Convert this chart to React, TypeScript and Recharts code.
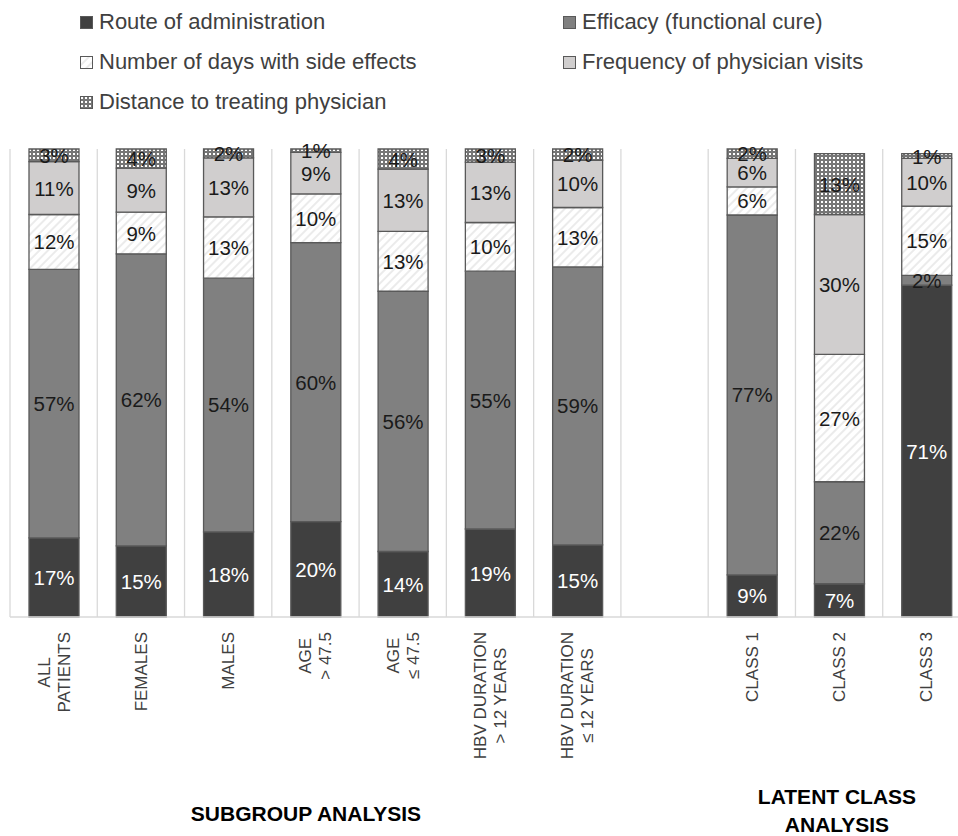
import React from "react";
import { BarChart, Bar, XAxis, YAxis, CartesianGrid, Legend, LabelList } from "recharts";

// categories (the empty one is the gap between the two analyses)
const CATEGORIES = [
  "ALL\nPATIENTS",
  "FEMALES",
  "MALES",
  "AGE\n> 47.5",
  "AGE\n≤ 47.5",
  "HBV DURATION\n> 12 YEARS",
  "HBV DURATION\n≤ 12 YEARS",
  "",
  "CLASS 1",
  "CLASS 2",
  "CLASS 3",
];

const ROUTE = [16.9, 15.2, 18.2, 20.4, 14.0, 18.8, 15.4, null, 9.0, 7.1, 70.9];
const EFFICACY = [57.4, 62.4, 54.2, 59.6, 55.6, 55.1, 59.4, null, 76.9, 21.8, 2.1];
const SIDE_EFFECTS = [11.7, 8.9, 13.1, 10.4, 12.8, 10.4, 12.7, null, 6.0, 27.2, 14.8];
const FREQUENCY = [11.3, 9.4, 12.6, 8.9, 13.3, 12.9, 10.1, null, 6.1, 29.9, 10.2];
const DISTANCE = [2.7, 4.1, 1.9, 0.7, 4.3, 2.8, 2.4, null, 2.0, 13.0, 1.0];

const SERIES = [
  { key: "route", name: "Route of administration", fill: "#404040", text: "#ffffff" },
  { key: "efficacy", name: "Efficacy (functional cure)", fill: "#808080", text: "#1a1a1a" },
  { key: "side", name: "Number of days with side effects", fill: "url(#stripes)", text: "#1a1a1a" },
  { key: "freq", name: "Frequency of physician visits", fill: "#d0cece", text: "#1a1a1a" },
  { key: "dist", name: "Distance to treating physician", fill: "url(#dots)", text: "#1a1a1a" },
];

const data = CATEGORIES.map((name, i) => ({
  name,
  route: ROUTE[i],
  efficacy: EFFICACY[i],
  side: SIDE_EFFECTS[i],
  freq: FREQUENCY[i],
  dist: DISTANCE[i],
}));

const FONT = "'Liberation Sans', Arial, sans-serif";
const STROKE = "#595959";

let ctx: CanvasRenderingContext2D | null = null;
function textWidth(s: string, font: string) {
  if (!ctx) ctx = document.createElement("canvas").getContext("2d");
  if (!ctx) return s.length * 9;
  ctx.font = font;
  return ctx.measureText(s).width;
}

function CategoryTick({ x, y, payload }: any) {
  const value = String(payload?.value ?? "");
  if (!value) return null;
  const lines = value.split("\n");
  const maxW = Math.max(...lines.map((l) => textWidth(l, `17px ${FONT}`)));
  const cy = y + 15 + maxW / 2;
  return (
    <g>
      {lines.map((l, i) => {
        const dx = (i - (lines.length - 1) / 2) * 20;
        return (
          <text
            key={i}
            transform={`translate(${x + dx + 6}, ${cy}) rotate(-90)`}
            textAnchor="middle"
            fontSize={17}
            fontFamily={FONT}
            fill="#404040"
          >
            {l}
          </text>
        );
      })}
    </g>
  );
}

function makeLabel(color: string) {
  return (props: any) => {
    const { x, y, width, height, value } = props;
    if (value == null) return null;
    return (
      <text
        x={x + width / 2}
        y={y + height / 2}
        textAnchor="middle"
        dominantBaseline="central"
        fontSize={20.5}
        fontFamily={FONT}
        fill={color}
      >
        {`${Math.round(value)}%`}
      </text>
    );
  };
}

function Swatch({ fill }: { fill: string }) {
  return (
    <svg width={13} height={13} style={{ display: "block", marginRight: 6 }}>
      <rect x={0.5} y={0.5} width={12} height={12} fill={fill} stroke={STROKE} strokeWidth={1} />
    </svg>
  );
}

function LegendContent() {
  return (
    <div
      style={{
        display: "grid",
        gridTemplateColumns: "483px 400px",
        gridAutoRows: "40px",
        paddingLeft: 80,
        paddingTop: 2,
        fontFamily: FONT,
        fontSize: 22,
        color: "#404040",
      }}
    >
      {SERIES.map((s) => (
        <div key={s.key} style={{ display: "flex", alignItems: "center", lineHeight: "40px" }}>
          <Swatch fill={s.fill} />
          <span>{s.name}</span>
        </div>
      ))}
    </div>
  );
}

export default function App() {
  return (
    <div
      style={{
        position: "absolute",
        left: 0,
        top: 0,
        width: 958,
        height: 836,
        overflow: "hidden",
        background: "#ffffff",
      }}
    >
      <BarChart
        width={980}
        height={836}
        data={data}
        margin={{ top: 149, right: 10, bottom: 0, left: 10 }}
      >
        <defs>
          <pattern id="stripes" width={6} height={6} patternUnits="userSpaceOnUse" patternTransform="rotate(45)">
            <rect width={6} height={6} fill="#ffffff" />
            <rect width={2} height={6} fill="#ebebeb" />
          </pattern>
          <pattern id="dots" width={4} height={4} patternUnits="userSpaceOnUse">
            <rect width={4} height={4} fill="#767676" />
            <rect x={1} y={1} width={2} height={2} fill="#ffffff" />
          </pattern>
        </defs>
        <CartesianGrid
          horizontal={false}
          stroke="#d9d9d9"
          strokeWidth={1.3}
          verticalCoordinatesGenerator={({ offset }: any) =>
            Array.from({ length: CATEGORIES.length + 1 }, (_, i) => offset.left + (i * offset.width) / CATEGORIES.length)
          }
        />
        <XAxis
          dataKey="name"
          interval={0}
          height={219}
          tickLine={false}
          tickSize={0}
          tickMargin={0}
          axisLine={{ stroke: "#d9d9d9", strokeWidth: 1.3 }}
          tick={<CategoryTick />}
        />
        <YAxis hide domain={[0, 100]} />
        <Legend
          layout="horizontal"
          verticalAlign="middle"
          align="center"
          wrapperStyle={{ top: 0, left: 0, width: 958 }}
          content={<LegendContent />}
        />
        {SERIES.map((s) => (
          <Bar
            key={s.key}
            dataKey={s.key}
            name={s.name}
            stackId="a"
            barSize={50}
            fill={s.fill}
            stroke={STROKE}
            strokeWidth={1.3}
            isAnimationActive={false}
          >
            <LabelList dataKey={s.key} content={makeLabel(s.text)} />
          </Bar>
        ))}
      </BarChart>
      <div
        style={{
          position: "absolute",
          left: 106,
          top: 800,
          width: 400,
          textAlign: "center",
          fontFamily: FONT,
          fontWeight: "bold",
          fontSize: 21,
          lineHeight: "28px",
          color: "#000",
        }}
      >
        SUBGROUP ANALYSIS
      </div>
      <div
        style={{
          position: "absolute",
          left: 637,
          top: 783,
          width: 400,
          textAlign: "center",
          fontFamily: FONT,
          fontWeight: "bold",
          fontSize: 21,
          lineHeight: "28px",
          color: "#000",
        }}
      >
        LATENT CLASS
        <br />
        ANALYSIS
      </div>
    </div>
  );
}
